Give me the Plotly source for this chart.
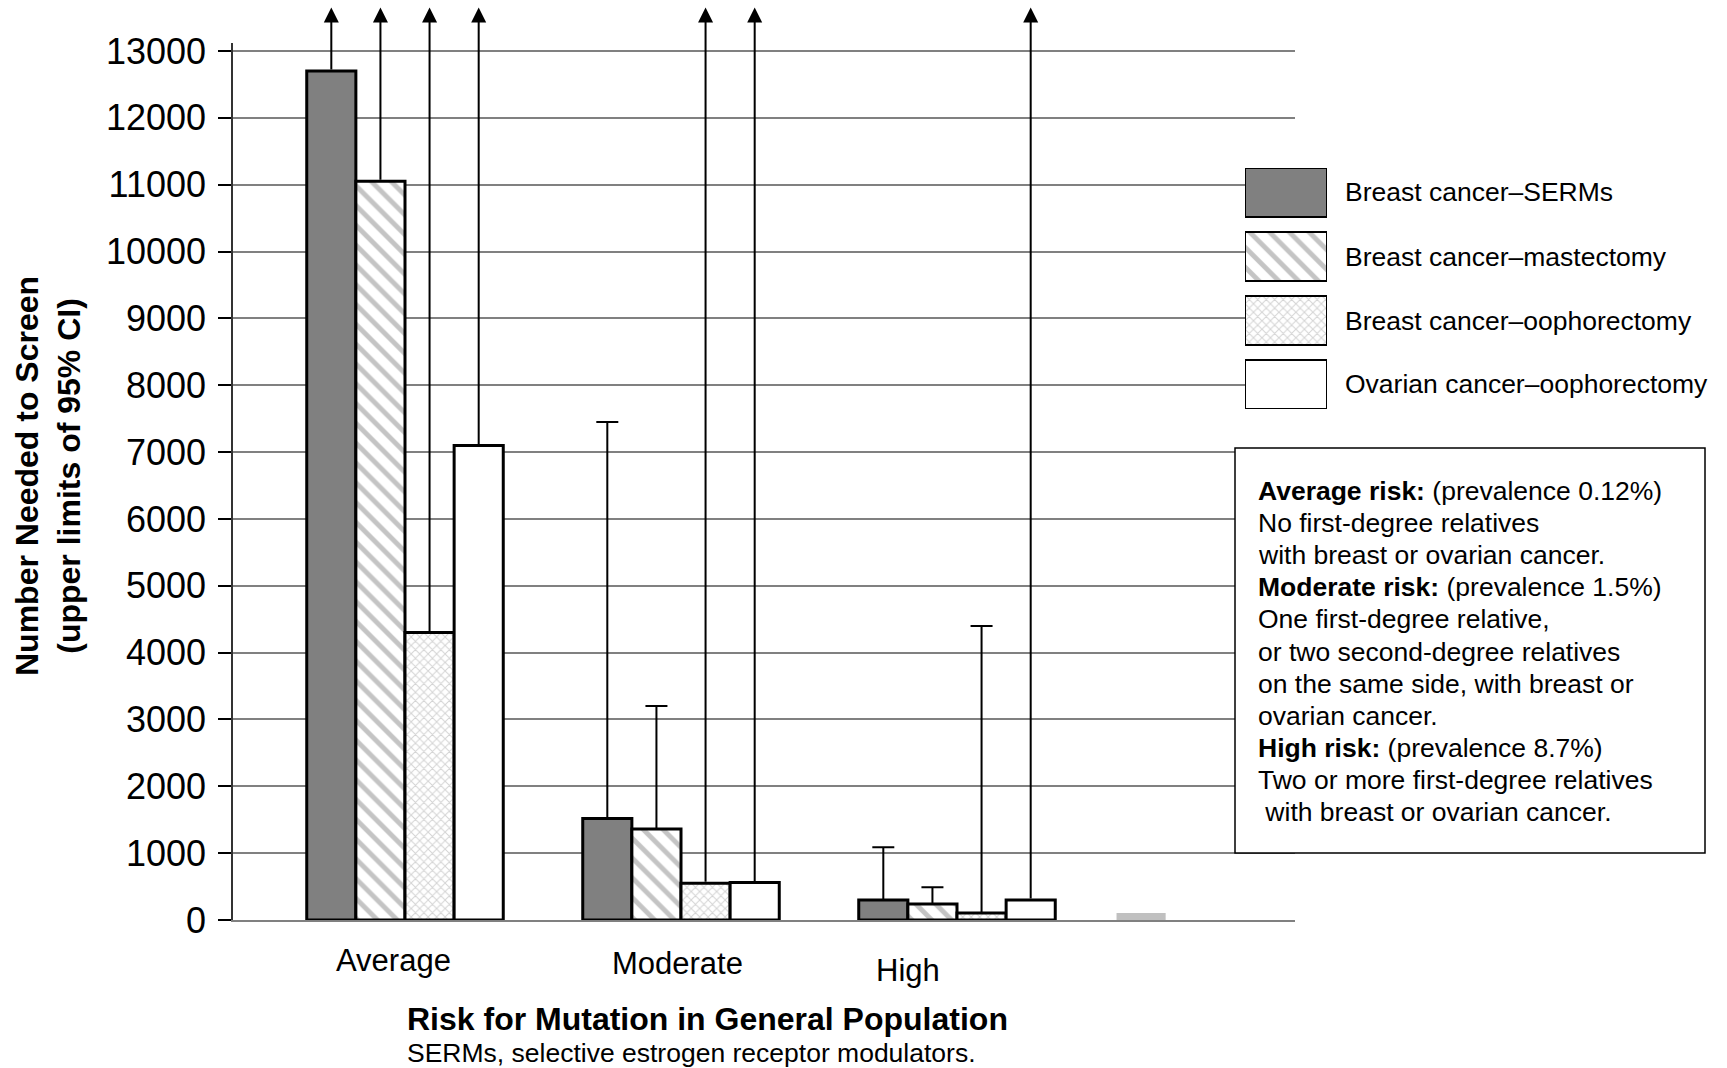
import plotly.graph_objects as go

# ---- data -------------------------------------------------------------
categories = ["Average", "Moderate", "High"]
group_pos = [0, 1, 2]

series_names = [
    "Breast cancer–SERMs",
    "Breast cancer–mastectomy",
    "Breast cancer–oophorectomy",
    "Ovarian cancer–oophorectomy",
]
serms = [12700, 1520, 300]
mastectomy = [11050, 1360, 240]
breast_oophorectomy = [4300, 550, 105]
ovarian_oophorectomy = [7100, 560, 300]

# upper limits of the 95% CI; None = unbounded (drawn as an arrow off the scale)
serms_upper = [None, 7450, 1090]
mastectomy_upper = [None, 3200, 490]
breast_oophorectomy_upper = [None, None, 4400]
ovarian_oophorectomy_upper = [None, None, None]

# small unlabeled grey bar to the right of the groups
extra_pos = [2.667]
extra_vals = [105]

y_ticks = list(range(0, 13001, 1000))

risk_notes = [
    "<b>Average risk:</b> (prevalence 0.12%)",
    "No first-degree relatives",
    "with breast or ovarian cancer.",
    "<b>Moderate risk:</b> (prevalence 1.5%)",
    "One first-degree relative,",
    "or two second-degree relatives",
    "on the same side, with breast or",
    "ovarian cancer.",
    "<b>High risk:</b> (prevalence 8.7%)",
    "Two or more first-degree relatives",
    " with breast or ovarian cancer.",
]

# ---- styling ----------------------------------------------------------
FONT = "Liberation Sans, Arial, Helvetica, sans-serif"
BAR_W = 0.178
OFF_SCALE = 13650          # where the unbounded arrows end
W, H = 1727, 1068
PLOT_L, PLOT_R, PLOT_T, PLOT_B = 233, 1295, 43, 920   # plot area on the page (px)


def fx(px):
    """page pixel x -> paper fraction"""
    return px / W


def fy(py):
    """page pixel y (from top) -> paper fraction"""
    return 1 - py / H


values = [serms, mastectomy, breast_oophorectomy, ovarian_oophorectomy]
uppers = [serms_upper, mastectomy_upper, breast_oophorectomy_upper, ovarian_oophorectomy_upper]

markers = [
    dict(color="#808080", line=dict(color="black", width=3)),
    dict(color="white", line=dict(color="black", width=3),
         pattern=dict(shape="\\", fgcolor="#8a8a8a", bgcolor="white", size=14, solidity=0.35)),
    dict(color="white", line=dict(color="black", width=3),
         pattern=dict(shape="x", fgcolor="#a8a8a8", bgcolor="white", size=6, solidity=0.3)),
    dict(color="white", line=dict(color="black", width=3)),
]

fig = go.Figure()

annotations = []
for j, (name, vals, ups, mk) in enumerate(zip(series_names, values, uppers, markers)):
    fig.add_trace(go.Bar(
        x=group_pos, y=vals, name=name, width=BAR_W, offset=(j - 2) * BAR_W,
        marker=mk, showlegend=False, hoverinfo="skip",
    ))
    centers = [p + (j - 1.5) * BAR_W for p in group_pos]
    ex, ey, ee = [], [], []
    for cx, v, u in zip(centers, vals, ups):
        if u is None:
            annotations.append(dict(
                x=cx, y=OFF_SCALE, ax=cx, ay=v, xref="x", yref="y", axref="x", ayref="y",
                text="", showarrow=True, arrowhead=2, arrowsize=1.5, arrowwidth=2,
                arrowcolor="black",
            ))
        else:
            ex.append(cx)
            ey.append(v)
            ee.append(u - v)
    if ex:
        fig.add_trace(go.Scatter(
            x=ex, y=ey, mode="markers", marker=dict(size=1, opacity=0),
            error_y=dict(type="data", symmetric=False, array=ee, arrayminus=[0] * len(ee),
                         color="black", thickness=2, width=11),
            showlegend=False, hoverinfo="skip",
        ))

fig.add_trace(go.Bar(
    x=extra_pos, y=extra_vals, width=BAR_W, offset=-BAR_W / 2,
    marker=dict(color="#c0c0c0", line=dict(width=0)), showlegend=False, hoverinfo="skip",
))

# ---- legend drawn as a small horizontal-bar subplot -----------------
SW_H = 0.766
for k, (name, mk) in enumerate(zip(series_names, markers)):
    lm = dict(mk)
    lm["line"] = dict(color="black", width=2)
    fig.add_trace(go.Bar(
        x=[1], y=[k], base=0, orientation="h", width=SW_H, marker=lm,
        xaxis="x2", yaxis="y2", showlegend=False, hoverinfo="skip",
    ))

sw_top, sw_pitch = 168, 64
for k, name in enumerate(series_names):
    yc = sw_top + 24.5 + k * sw_pitch
    annotations.append(dict(
        x=fx(1343), y=fy(yc), xref="paper", yref="paper", xanchor="left", yanchor="middle",
        text=name, showarrow=False, font=dict(family=FONT, size=26.5, color="black"),
    ))

# category labels
label_shift = [(-12, -40), (-4, -43), (-49, -50)]
for cat, p, (dx, dy) in zip(categories, group_pos, label_shift):
    annotations.append(dict(
        x=p, y=fy(PLOT_B), xref="x", yref="paper", xshift=dx, yshift=dy, xanchor="center",
        yanchor="middle", text=cat, showarrow=False,
        font=dict(family=FONT, size=31, color="black"),
    ))

# risk definitions box: white panel with one annotation per line
shapes = [dict(
    type="rect", xref="paper", yref="paper", x0=fx(1235), x1=fx(1705), y0=fy(853), y1=fy(448),
    fillcolor="white", line=dict(color="black", width=1.5), layer="above",
)]
for k, line in enumerate(risk_notes):
    annotations.append(dict(
        x=fx(1256), y=fy(491 + k * 32.1), xref="paper", yref="paper", xanchor="left",
        yanchor="middle", text=line, showarrow=False,
        font=dict(family=FONT, size=26.5, color="black"),
    ))

# axis titles and footnote
annotations.append(dict(
    x=fx(48), y=fy(476), xref="paper", yref="paper", xanchor="center", yanchor="middle",
    text="<b>Number Needed to Screen<br>(upper limits of 95% CI)</b>", textangle=-90,
    showarrow=False, font=dict(family=FONT, size=32, color="black"),
))
annotations.append(dict(
    x=fx(405), y=fy(1019), xref="paper", yref="paper", xanchor="left", yanchor="middle",
    text="<b>Risk for Mutation in General Population</b>", showarrow=False,
    font=dict(family=FONT, size=32, color="black"),
))
annotations.append(dict(
    x=fx(405), y=fy(1053), xref="paper", yref="paper", xanchor="left", yanchor="middle",
    text="SERMs, selective estrogen receptor modulators.", showarrow=False,
    font=dict(family=FONT, size=26.5, color="black"),
))

px_per_unit = 276.0
xmin = -(405 - PLOT_L) / px_per_unit
xmax = xmin + (PLOT_R - PLOT_L) / px_per_unit

fig.update_layout(
    width=W, height=H,
    margin=dict(l=0, r=0, t=0, b=0, pad=0, autoexpand=False),
    paper_bgcolor="white", plot_bgcolor="white",
    barmode="overlay",
    showlegend=False,
    font=dict(family=FONT, color="black"),
    annotations=annotations,
    shapes=shapes,
    xaxis=dict(
        domain=[fx(PLOT_L), fx(PLOT_R)], automargin=False,
        range=[xmin, xmax], showgrid=False, zeroline=False, showticklabels=False,
        ticks="", showline=True, linecolor="#808080", linewidth=2, fixedrange=True,
    ),
    yaxis=dict(
        domain=[fy(PLOT_B), fy(PLOT_T)], automargin=False,
        range=[0, 13120], tickvals=y_ticks, ticktext=[str(v) for v in y_ticks],
        showgrid=True, gridcolor="#808080", gridwidth=1.5, zeroline=False,
        showline=True, linecolor="#333333", linewidth=1.5,
        ticks="outside", ticklen=13, tickwidth=1.5, tickcolor="black",
        ticklabelstandoff=5, tickfont=dict(family=FONT, size=36, color="black"),
        fixedrange=True,
    ),
    xaxis2=dict(
        domain=[fx(1245), fx(1327)], range=[0, 1], visible=False, anchor="y2",
        fixedrange=True, automargin=False,
    ),
    yaxis2=dict(
        domain=[fy(409), fy(168)], range=[3 + 0.5 - (1 - SW_H) / 2, -0.5 + (1 - SW_H) / 2],
        visible=False, anchor="x2", fixedrange=True, automargin=False,
    ),
)

fig.write_html("out.html", include_plotlyjs=True, config={"displayModeBar": False})
